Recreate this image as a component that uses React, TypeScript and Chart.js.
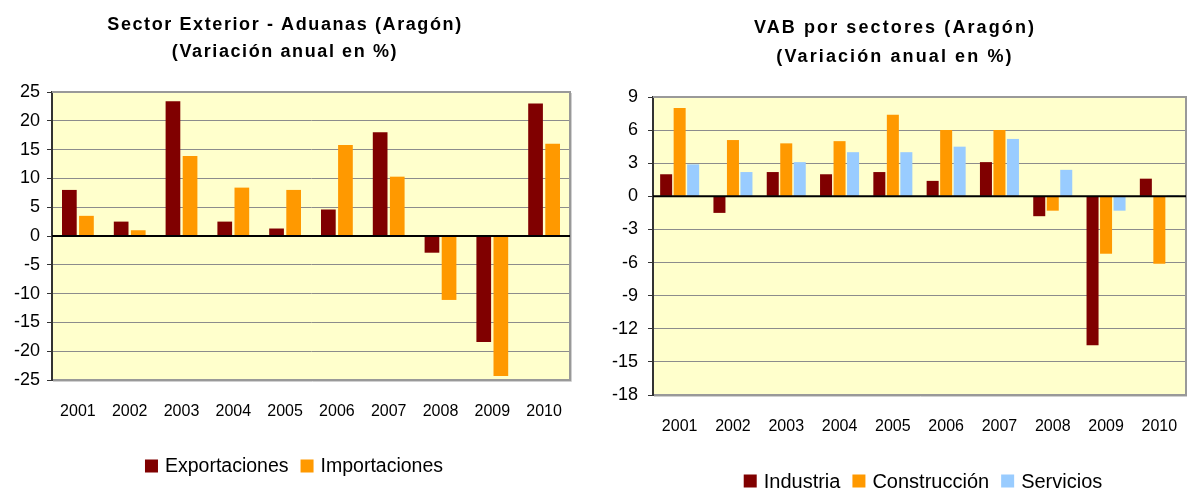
import React, { useEffect, useRef } from "react";
import { Chart, registerables } from "chart.js";

Chart.register(...registerables);

// ---------- data ----------
const years = ["2001", "2002", "2003", "2004", "2005", "2006", "2007", "2008", "2009", "2010"];

const exportaciones = [8.0, 2.5, 23.4, 2.5, 1.3, 4.6, 18.0, -2.9, -18.4, 23.0];
const importaciones = [3.5, 1.0, 13.9, 8.4, 8.0, 15.8, 10.3, -11.1, -24.3, 16.0];

const industria = [2.0, -1.5, 2.2, 2.0, 2.2, 1.4, 3.1, -1.8, -13.5, 1.6];
const construccion = [8.0, 5.1, 4.8, 5.0, 7.4, 6.0, 6.0, -1.3, -5.2, -6.1];
const servicios = [2.9, 2.2, 3.1, 4.0, 4.0, 4.5, 5.2, 2.4, -1.3, 0.1];

const leftTitle = ["Sector Exterior - Aduanas (Aragón)", "(Variación anual en %)"];
const rightTitle = ["VAB por sectores (Aragón)", "(Variación anual en %)"];

const leftAxis = { min: -25, max: 25, step: 5 };
const rightAxis = { min: -18, max: 9, step: 3 };

const MAROON = "#800000";
const ORANGE = "#FF9900";
const LIGHTBLUE = "#99CCFF";
const PLOT_BG = "#FFFFCC";
const FONT = "'Liberation Sans', Arial, Helvetica, sans-serif";

// ---------- plugins ----------
const plotDecor = {
  id: "plotDecor",
  beforeDraw(chart: any) {
    const { ctx, chartArea: a } = chart;
    ctx.save();
    ctx.fillStyle = PLOT_BG;
    ctx.fillRect(a.left, a.top, a.right - a.left, a.bottom - a.top);
    ctx.restore();
  },
  afterDatasetsDraw(chart: any) {
    const { ctx, chartArea: a } = chart;
    const y0 = chart.scales.y.getPixelForValue(0);
    ctx.save();
    ctx.strokeStyle = "#999999";
    ctx.lineWidth = 2;
    ctx.beginPath();
    ctx.moveTo(a.left, a.top);
    ctx.lineTo(a.right, a.top);
    ctx.lineTo(a.right, a.bottom);
    ctx.stroke();
    ctx.strokeStyle = "#d0d0d0";
    ctx.lineWidth = 1;
    ctx.beginPath();
    ctx.moveTo(a.right + 1.5, a.top + 1);
    ctx.lineTo(a.right + 1.5, a.bottom + 1.5);
    ctx.lineTo(a.left + 1, a.bottom + 1.5);
    ctx.stroke();
    ctx.strokeStyle = "#000000";
    ctx.lineWidth = 2;
    ctx.beginPath();
    ctx.moveTo(a.left, y0);
    ctx.lineTo(a.right, y0);
    ctx.stroke();
    ctx.restore();
  },
};

const textTitle = {
  id: "textTitle",
  afterDraw(chart: any, _args: any, opts: any) {
    const { ctx } = chart;
    ctx.save();
    ctx.fillStyle = "#000";
    ctx.font = `bold ${opts.size}px ${FONT}`;
    ctx.textAlign = "center";
    ctx.textBaseline = "middle";
    try {
      (ctx as any).letterSpacing = `${opts.spacing}px`;
    } catch (e) {}
    opts.lines.forEach((line: string, i: number) => {
      ctx.fillText(line, opts.centerX, opts.ys[i]);
    });
    ctx.restore();
  },
};

const boxLegend = {
  id: "boxLegend",
  afterDraw(chart: any, _args: any, opts: any) {
    const { ctx } = chart;
    const ds = chart.data.datasets;
    ctx.save();
    ctx.font = `${opts.size}px ${FONT}`;
    ctx.textBaseline = "middle";
    ctx.textAlign = "left";
    const box = opts.box;
    const gap = opts.gap;
    const itemGap = opts.itemGap;
    const widths = ds.map((d: any) => box + gap + ctx.measureText(d.label).width);
    const total = widths.reduce((s: number, w: number) => s + w, 0) + itemGap * (ds.length - 1);
    let x = opts.centerX - total / 2;
    ds.forEach((d: any, i: number) => {
      ctx.fillStyle = d.backgroundColor;
      ctx.fillRect(x, opts.y - box / 2, box, box);
      ctx.fillStyle = "#000";
      ctx.fillText(d.label, x + box + gap, opts.y + 1);
      x += widths[i] + itemGap;
    });
    ctx.restore();
  },
};

function makeOptions(cfg: any) {
  return {
    responsive: false,
    animation: false,
    layout: { padding: cfg.padding },
    plugins: {
      legend: { display: false },
      title: { display: false },
      tooltip: { enabled: false },
      textTitle: cfg.title,
      boxLegend: cfg.legend,
    },
    scales: {
      x: {
        type: "category",
        offset: true,
        grid: { display: false, drawTicks: false },
        border: { display: true, color: "#999999", width: 2 },
        ticks: {
          color: "#000",
          font: { family: FONT, size: 16 },
          padding: cfg.xPad,
          maxRotation: 0,
          autoSkip: false,
        },
        afterFit(scale: any) {
          scale.height = 40;
          scale.paddingLeft = 0;
          scale.paddingRight = 0;
        },
      },
      y: {
        min: cfg.axis.min,
        max: cfg.axis.max,
        ticks: {
          stepSize: cfg.axis.step,
          color: "#000",
          font: { family: FONT, size: 18 },
          padding: cfg.yPad,
        },
        grid: {
          color: "#8c8c8c",
          lineWidth: 1,
          drawTicks: true,
          tickLength: 5,
          tickColor: "#333333",
          tickWidth: 1,
        },
        border: { display: true, color: "#333333", width: 2 },
        afterFit(scale: any) {
          scale.width = cfg.yWidth;
        },
      },
    },
  };
}

function BarChart(props: { config: () => any; style: React.CSSProperties; w: number; h: number }) {
  const ref = useRef<HTMLCanvasElement | null>(null);
  useEffect(() => {
    if (!ref.current) return;
    const chart = new Chart(ref.current, props.config());
    return () => chart.destroy();
  }, []);
  return <canvas ref={ref} width={props.w} height={props.h} style={props.style} />;
}

const leftConfig = () => ({
  type: "bar",
  data: {
    labels: years,
    datasets: [
      { label: "Exportaciones", data: exportaciones, backgroundColor: MAROON, categoryPercentage: 0.66, barPercentage: 0.86 },
      { label: "Importaciones", data: importaciones, backgroundColor: ORANGE, categoryPercentage: 0.66, barPercentage: 0.86 },
    ],
  },
  plugins: [plotDecor, textTitle, boxLegend],
  options: makeOptions({
    padding: { top: 92, left: 0, right: 20, bottom: 68 },
    axis: leftAxis,
    yWidth: 52,
    yPad: 7,
    xPad: 22,
    title: { lines: leftTitle, centerX: 285, ys: [25, 52], size: 18, spacing: 1.6 },
    legend: { centerX: 294, y: 466, size: 19.5, box: 13, gap: 7, itemGap: 12 },
  }),
});

const rightConfig = () => ({
  type: "bar",
  data: {
    labels: years,
    datasets: [
      { label: "Industria", data: industria, backgroundColor: MAROON, categoryPercentage: 0.76, barPercentage: 0.89 },
      { label: "Construcción", data: construccion, backgroundColor: ORANGE, categoryPercentage: 0.76, barPercentage: 0.89 },
      { label: "Servicios", data: servicios, backgroundColor: LIGHTBLUE, categoryPercentage: 0.76, barPercentage: 0.89 },
    ],
  },
  plugins: [plotDecor, textTitle, boxLegend],
  options: makeOptions({
    padding: { top: 97, left: 14, right: 1, bottom: 53 },
    axis: rightAxis,
    yWidth: 49,
    yPad: 10,
    xPad: 22,
    title: { lines: rightTitle, centerX: 305, ys: [28, 57], size: 18, spacing: 2.1 },
    legend: { centerX: 333, y: 481, size: 20, box: 13, gap: 7, itemGap: 12 },
  }),
});

export default function App() {
  return (
    <div style={{ position: "absolute", left: 0, top: 0, width: 1187, height: 488, background: "#fff", overflow: "hidden" }}>
      <BarChart config={leftConfig} w={590} h={488} style={{ position: "absolute", left: 0, top: 0 }} />
      <BarChart config={rightConfig} w={597} h={488} style={{ position: "absolute", left: 590, top: 0 }} />
    </div>
  );
}
